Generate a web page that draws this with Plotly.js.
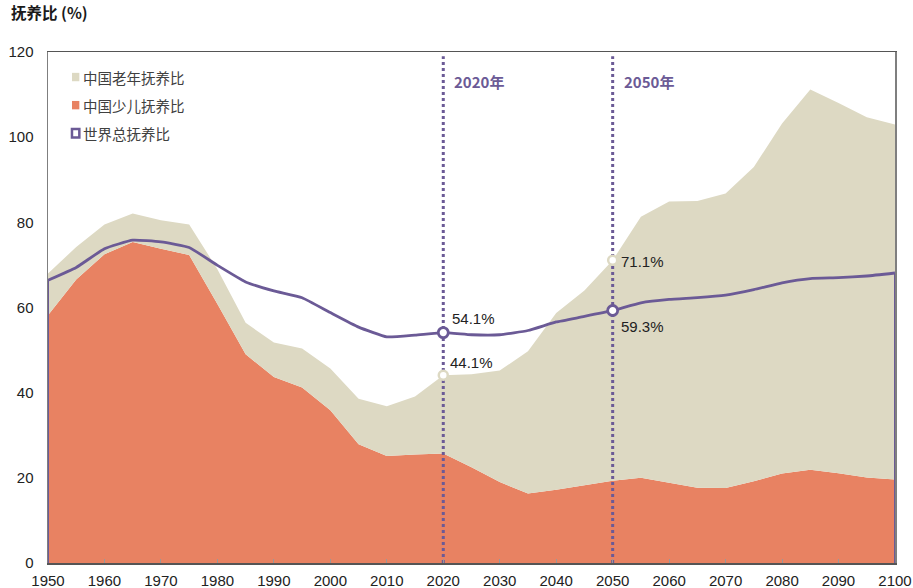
<!DOCTYPE html>
<html>
<head>
<meta charset="utf-8">
<script src="https://cdn.plot.ly/plotly-3.0.1.min.js"></script>
<style>html,body{margin:0;padding:0;background:#fff;}#chart{width:913px;height:588px;}</style>
</head>
<body>
<div id="chart"></div>
<script>
// ---- data ----
const years = [1950,1955,1960,1965,1970,1975,1980,1985,1990,1995,2000,2005,2010,2015,2020,2025,2030,2035,2040,2045,2050,2055,2060,2065,2070,2075,2080,2085,2090,2095,2100];
const childRatio = [58.2,66.6,72.5,75.4,73.8,72.3,60.8,49.0,43.7,41.2,35.9,27.9,25.1,25.5,25.7,22.5,19.0,16.3,17.2,18.2,19.3,20.0,18.9,17.7,17.6,19.2,21.0,21.9,21.1,20.1,19.6];
const oldRatio = [9.8,7.6,7.0,6.7,6.7,7.2,8.2,7.4,8.1,9.2,9.8,10.7,11.7,13.6,18.4,21.8,26.2,33.4,41.5,45.8,51.8,61.3,66.0,67.3,69.2,73.8,82.2,89.3,86.9,84.6,83.4];
const worldRatio = [66.4,69.4,73.8,75.8,75.4,74.1,69.9,66.0,63.9,62.3,58.8,55.4,53.1,53.5,54.1,53.6,53.6,54.6,56.6,57.9,59.3,61.1,61.9,62.3,62.9,64.2,65.8,66.8,67.0,67.4,68.1];
const highlightYears = [2020, 2050];
const chinaTotalAtHighlight = [44.1, 71.1];
const worldAtHighlight = [54.1, 59.3];
const highlightLabels = ['2020年', '2050年'];
const seriesNames = ['中国老年抚养比', '中国少儿抚养比', '世界总抚养比'];
const yTitle = '抚养比 (%)';

// ---- styles ----
const ORANGE = '#E88262';
const BEIGE = '#DDD9C3';
const PURPLE = '#6B5A96';
const FONT = '"Liberation Sans", Arial, sans-serif';
const CJK = '"Noto Sans CJK SC", "Liberation Sans", sans-serif';

const traces = [];
// stacked areas
traces.push({x: years, y: childRatio, type: 'scatter', mode: 'lines', stackgroup: 'cn',
  line: {width: 0, color: ORANGE}, fillcolor: ORANGE, name: seriesNames[1], showlegend: false, hoverinfo: 'skip'});
traces.push({x: years, y: oldRatio, type: 'scatter', mode: 'lines', stackgroup: 'cn',
  line: {width: 0, color: BEIGE}, fillcolor: BEIGE, name: seriesNames[0], showlegend: false, hoverinfo: 'skip'});
// dotted reference lines
highlightYears.forEach(yr => {
  traces.push({x: [yr, yr], y: [0, 119], type: 'scatter', mode: 'lines',
    line: {color: PURPLE, width: 3, dash: 'dot'}, showlegend: false, hoverinfo: 'skip'});
});
// world outline edges
traces.push({x: [years[0], years[0]], y: [0, worldRatio[0]], mode: 'lines', line: {color: PURPLE, width: 2}, showlegend: false, hoverinfo: 'skip'});
traces.push({x: [years[years.length-1], years[years.length-1]], y: [0, worldRatio[worldRatio.length-1]], mode: 'lines', line: {color: PURPLE, width: 2}, showlegend: false, hoverinfo: 'skip'});
// world line
traces.push({x: years, y: worldRatio, type: 'scatter', mode: 'lines', name: seriesNames[2],
  line: {color: PURPLE, width: 2.8, shape: 'spline', smoothing: 0.4}, showlegend: false, hoverinfo: 'skip'});
// highlight markers
traces.push({x: highlightYears, y: chinaTotalAtHighlight, mode: 'markers',
  marker: {size: 9, color: '#ffffff', line: {color: BEIGE, width: 2.5}}, showlegend: false, hoverinfo: 'skip'});
traces.push({x: highlightYears, y: worldAtHighlight, mode: 'markers',
  marker: {size: 10, color: '#ffffff', line: {color: PURPLE, width: 2.8}}, showlegend: false, hoverinfo: 'skip'});

const annotations = [];
annotations.push({xref: 'paper', yref: 'paper', x: -0.046, y: 1.053, xanchor: 'left', yanchor: 'bottom',
  text: '<b>' + yTitle + '</b>', showarrow: false, font: {family: CJK, size: 15.5, color: '#1a1a1a'}});
highlightLabels.forEach((t, i) => {
  annotations.push({x: highlightYears[i], xref: 'x', yref: 'paper', y: 0.943, xanchor: 'left', yanchor: 'middle',
    xshift: 9, text: '<b>' + t + '</b>', showarrow: false, font: {family: CJK, size: 15, color: PURPLE}});
});
// value labels
annotations.push({x: highlightYears[0], y: worldAtHighlight[0], xanchor: 'left', yanchor: 'middle', xshift: 7, yshift: 14,
  text: worldAtHighlight[0].toFixed(1) + '%', showarrow: false, font: {family: FONT, size: 15, color: '#222'}});
annotations.push({x: highlightYears[0], y: chinaTotalAtHighlight[0], xanchor: 'left', yanchor: 'middle', xshift: 5, yshift: 13,
  text: chinaTotalAtHighlight[0].toFixed(1) + '%', showarrow: false, font: {family: FONT, size: 15, color: '#222'}});
annotations.push({x: highlightYears[1], y: chinaTotalAtHighlight[1], xanchor: 'left', yanchor: 'middle', xshift: 6, yshift: -1,
  text: chinaTotalAtHighlight[1].toFixed(1) + '%', showarrow: false, font: {family: FONT, size: 15, color: '#222'}});
annotations.push({x: highlightYears[1], y: worldAtHighlight[1], xanchor: 'left', yanchor: 'middle', xshift: 6, yshift: -16,
  text: worldAtHighlight[1].toFixed(1) + '%', showarrow: false, font: {family: FONT, size: 15, color: '#222'}});

// legend (custom)
const legendColors = [BEIGE, ORANGE, '#ffffff'];
const legendY = [0.951, 0.896, 0.841];
const shapes = [];
seriesNames.forEach((n, i) => {
  annotations.push({xref: 'paper', yref: 'paper', x: 0.0395, y: legendY[i], xanchor: 'left', yanchor: 'middle',
    text: n, showarrow: false, font: {family: CJK, size: 14.5, color: '#404040'}});
  const py = legendY[i];
  shapes.push({type: 'rect', xref: 'paper', yref: 'paper', x0: 0.0283, x1: 0.0370, y0: py - 0.0082, y1: py + 0.0082,
    fillcolor: legendColors[i], line: i === 2 ? {color: PURPLE, width: 2.5} : {width: 0}});
});

const layout = {
  width: 913, height: 588,
  margin: {l: 48, r: 18, t: 52, b: 25},
  paper_bgcolor: '#fff', plot_bgcolor: '#fff',
  showlegend: false,
  xaxis: {range: [1950, 2100], dtick: 10, tick0: 1950, showgrid: false, zeroline: false,
    showline: true, linecolor: '#555', linewidth: 1.5, mirror: true,
    ticks: 'inside', ticklen: 4, tickcolor: '#999', tickwidth: 1, ticklabelstandoff: 3,
    tickfont: {family: FONT, size: 15, color: '#222'}, fixedrange: true},
  yaxis: {range: [0, 120], dtick: 20, showgrid: false, zeroline: false,
    showline: true, linecolor: '#7f7f7f', linewidth: 1.5, mirror: true, ticks: '', ticklabelstandoff: 10,
    tickfont: {family: FONT, size: 15, color: '#222'}, fixedrange: true},
  annotations: annotations,
  shapes: shapes
};

Plotly.newPlot('chart', traces, layout, {displayModeBar: false, staticPlot: true});
</script>
</body>
</html>
